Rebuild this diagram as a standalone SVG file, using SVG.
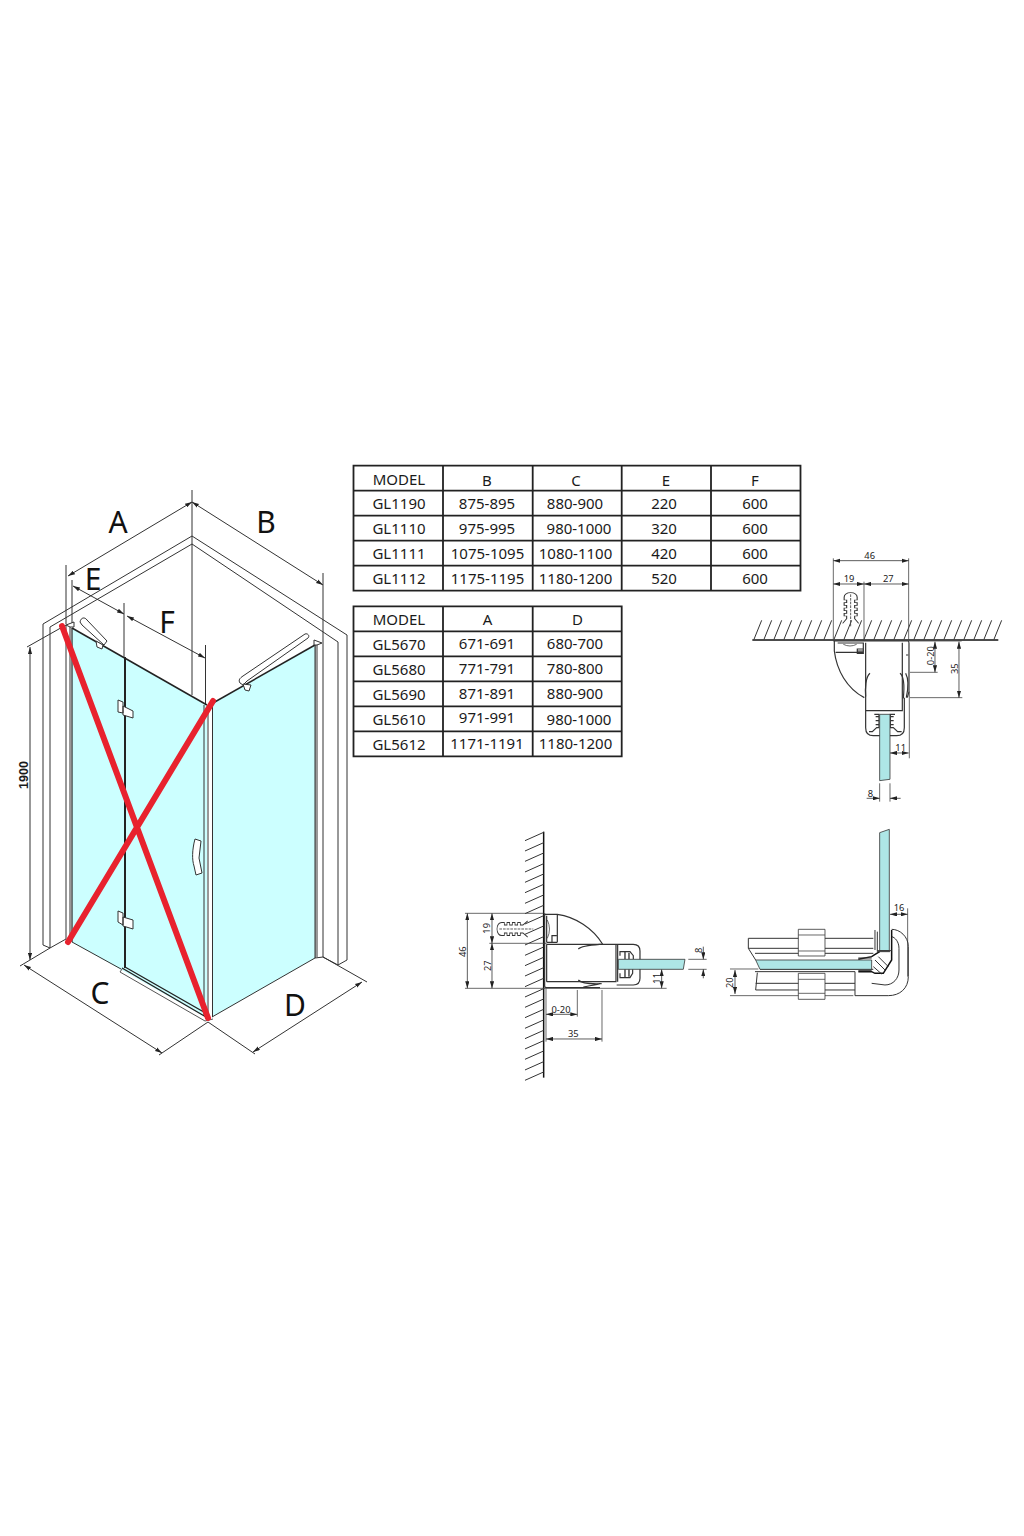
<svg xmlns="http://www.w3.org/2000/svg" width="1024" height="1536" viewBox="0 0 1024 1536">
<defs>
<marker id="a" viewBox="0 0 10 6" refX="10" refY="3" markerWidth="7" markerHeight="4.5" markerUnits="userSpaceOnUse" orient="auto-start-reverse"><path d="M0 0L10 3L0 6z" fill="#222"/></marker>
<marker id="b" viewBox="0 0 10 6" refX="10" refY="3" markerWidth="21" markerHeight="13" markerUnits="userSpaceOnUse" orient="auto-start-reverse"><path d="M0 0L10 3L0 6z" fill="#222"/></marker>
<path id="plug" d="M0 -14C-8 -14 -13 -8 -13 0V8H-8V16H-13V24H-8V32H-13V40H-8V48H-13V56H-8V64L-16 78M0 -14C8 -14 13 -8 13 0V8H8V16H13V24H8V32H13V40H8V48H13V56H8V64L16 78" fill="#fff" stroke="#333" stroke-width="2.2"/>
</defs>
<style>
text{font-family:"Noto Sans","Open Sans","Liberation Sans",sans-serif;fill:#1a1a1a}
.t{font-size:15px;text-anchor:middle}
.g{fill:none;stroke:#222;stroke-width:1.8}
.L{font-size:30px;text-anchor:middle;fill:#111}
.l{fill:none;stroke:#333;stroke-width:1}
.k{fill:none;stroke:#222;stroke-width:1.5}
.d{fill:none;stroke:#333;stroke-width:1;marker-start:url(#a);marker-end:url(#a)}
.x{fill:none;stroke:#333;stroke-width:3}
.X{fill:none;stroke:#111;stroke-width:4.5}
.p{fill:none;stroke:#333;stroke-width:3.6}
.e{fill:none;stroke:#444;stroke-width:2.4}
.s{font-size:28px;text-anchor:middle;fill:#222}
.D{fill:none;stroke:#333;stroke-width:2.4;marker-start:url(#b);marker-end:url(#b)}
.E{fill:none;stroke:#333;stroke-width:2.4;marker-end:url(#b)}
.glass{fill:#aee6e6;stroke:#333;stroke-width:2.4}
.pane{fill:#ccffff;stroke:none}
</style>
<rect width="1024" height="1536" fill="#fff"/>

<g id="table-1">
<path class="g" d="M353.5 465.7H800.5V590.7H353.5ZM353.5 490.7H800.5M353.5 515.7H800.5M353.5 540.7H800.5M353.5 565.7H800.5M443 465.7V590.7M532.7 465.7V590.7M621.7 465.7V590.7M711 465.7V590.7"/>
<text class="t" x="399" y="484.5">MODEL</text><text class="t" x="487" y="485.5">B</text><text class="t" x="576" y="485.5">C</text><text class="t" x="666" y="485.5">E</text><text class="t" x="755" y="485.5">F</text>
<text class="t" x="399" y="509">GL1190</text><text class="t" x="487" y="509">875-895</text><text class="t" x="575" y="509">880-900</text><text class="t" x="664" y="509">220</text><text class="t" x="755" y="509">600</text>
<text class="t" x="399" y="533.5">GL1110</text><text class="t" x="487" y="533.5">975-995</text><text class="t" x="579" y="533.5">980-1000</text><text class="t" x="664" y="533.5">320</text><text class="t" x="755" y="533.5">600</text>
<text class="t" x="399" y="558.5">GL1111</text><text class="t" x="487.5" y="558.5">1075-1095</text><text class="t" x="575.5" y="558.5">1080-1100</text><text class="t" x="664" y="558.5">420</text><text class="t" x="755" y="558.5">600</text>
<text class="t" x="399" y="583.5">GL1112</text><text class="t" x="487.5" y="583.5">1175-1195</text><text class="t" x="575.5" y="583.5">1180-1200</text><text class="t" x="664" y="583.5">520</text><text class="t" x="755" y="583.5">600</text>
</g>

<g id="table-2">
<path class="g" d="M353.5 606.3H621.7V756.3H353.5ZM353.5 631.3H621.7M353.5 656.3H621.7M353.5 681.3H621.7M353.5 706.3H621.7M353.5 731.3H621.7M443 606.3V756.3M532.7 606.3V756.3"/>
<text class="t" x="399" y="625">MODEL</text><text class="t" x="487.5" y="624.5">A</text><text class="t" x="577.5" y="624.5">D</text>
<text class="t" x="399" y="649.5">GL5670</text><text class="t" x="487" y="649">671-691</text><text class="t" x="575" y="649">680-700</text>
<text class="t" x="399" y="674.5">GL5680</text><text class="t" x="487" y="674">771-791</text><text class="t" x="575" y="674">780-800</text>
<text class="t" x="399" y="699.5">GL5690</text><text class="t" x="487" y="698.5">871-891</text><text class="t" x="575" y="698.5">880-900</text>
<text class="t" x="399" y="724.5">GL5610</text><text class="t" x="487" y="723">971-991</text><text class="t" x="579" y="724.5">980-1000</text>
<text class="t" x="399" y="749.5">GL5612</text><text class="t" x="487" y="748.5">1171-1191</text><text class="t" x="575.5" y="749">1180-1200</text>
</g>

<g id="detail-top" transform="translate(745 545) scale(.3333)">
<path class="X" d="M22 285H760"/>
<path class="x" d="M27 283L50 226M57 283L80 226M87 283L110 226M117 283L140 226M147 283L170 226M177 283L200 226M207 283L230 226M237 283L260 226M267 283L290 226M297 283L320 226M327 283L350 226M357 283L380 226M387 283L410 226M417 283L440 226M447 283L470 226M477 283L500 226M507 283L530 226M537 283L560 226M567 283L590 226M597 283L620 226M627 283L650 226M657 283L680 226M687 283L710 226M717 283L740 226M747 283L770 226"/>
<use href="#plug" transform="translate(317 157) scale(1.5 1)"/>
<path d="M317 148V245" fill="none" stroke="#333" stroke-width="2.4" stroke-dasharray="8 3"/>
<path class="e" d="M265 40V285M491 40V285M357 110V285M490 288H650M495 382H578M495 458H652M493 440V640M404 715V770M435 715V770"/>
<path class="D" d="M265 47H491"/><path class="D" d="M265 117H357"/><path class="D" d="M357 117H491"/>
<path class="D" d="M570 290V382"/><path class="D" d="M642 290V458"/><path class="D" d="M435 624H491"/>
<path class="E" d="M365 760H404"/><path class="E" d="M467 760H435"/>
<path class="p" d="M265 288H488Q492 288 492 294V440L487 458M268 288V318C275 375 305 430 358 458M272 322H355M278 294H355V318H335M337 312H355V325H337Z"/>
<path class="p" d="M362 293V497H472V360M362 497V548Q362 572 385 572H455Q478 572 478 548V458M472 293V360"/>
<path class="p" d="M375 385C362 395 360 430 362 455M465 385C478 395 478 430 475 460M482 385C490 400 490 430 484 458M483 330H490"/>
<path d="M388 508H402V548H395L382 560H372M450 508H436V548H445L458 560H470" fill="none" stroke="#333" stroke-width="3.5"/>
<path d="M392 515H402M392 527H402M392 539H402M436 515H446M436 527H446M436 539H446" stroke="#333" stroke-width="4"/>
<path class="e" d="M295 298Q315 308 335 298"/>
<path class="glass" d="M404 508H435V703L404 707Z"/>
<text class="s" x="374" y="42">46</text><text class="s" x="312" y="112">19</text><text class="s" x="430" y="110">27</text>
<text class="s" x="467" y="617">11</text><text class="s" x="376" y="756">8</text>
<text class="s" transform="translate(566 332) rotate(-90)">0-20</text><text class="s" transform="translate(639 371) rotate(-90)">35</text>
</g>

<g id="detail-left" transform="translate(450 825) scale(.3333)">
<path class="X" d="M281 20V758"/>
<path class="x" d="M281 22L225 47M281 53L225 78M281 84L225 109M281 116L225 141M281 147L225 172M281 178L225 203M281 210L225 235M281 241L225 266M281 272L225 297M281 303L225 328M281 335L225 360M281 366L225 391M281 397L225 422M281 428L225 453M281 460L225 485M281 491L225 516M281 522L225 547M281 553L225 578M281 585L225 610M281 616L225 641M281 647L225 672M281 678L225 703M281 710L225 735M281 741L225 766"/>
<use href="#plug" transform="translate(155 312) rotate(-90) scale(1.5 1)"/>
<path d="M148 312H250" fill="none" stroke="#333" stroke-width="2.4" stroke-dasharray="8 3"/>
<path class="e" d="M45 265H281M45 490H285M118 355H290M285 490H650M382 495V575M456 495V650M288 490V650M715 403H770M715 433H770"/>
<path class="D" d="M52 265V490"/><path class="D" d="M126 265V355"/><path class="D" d="M126 355V490"/>
<path class="D" d="M288 568H382"/><path class="D" d="M288 642H456"/><path class="D" d="M635 433V490"/>
<path class="E" d="M760 365V403"/><path class="E" d="M760 460V433"/>
<path class="p" d="M284 265V484Q284 488 290 488H450M284 268H322C375 275 430 310 458 358M322 268V352M290 272V352M290 352H322M306 352V332H320"/>
<path class="p" d="M290 358H550Q570 358 570 378V460Q570 480 550 480H500M290 358V470M290 470H498V358M503 358V470"/>
<path class="p" d="M385 372C395 362 430 360 455 358M385 465C395 476 430 477 455 476M400 486C420 482 435 480 450 476"/>
<path d="M510 392V380H540L550 392V403M510 445V458H540L548 445V433" fill="none" stroke="#333" stroke-width="3.5"/>
<path d="M525 380V403M537 383V403M525 433V458M537 433V455" stroke="#333" stroke-width="4"/>
<path d="M292 285Q305 312 292 340" fill="none" stroke="#444" stroke-width="2.4"/>
<path class="glass" d="M505 403H705L700 433H505Z"/>
<text class="s" transform="translate(47 380) rotate(-90)">46</text><text class="s" transform="translate(119 310) rotate(-90)">19</text><text class="s" transform="translate(122 422) rotate(-90)">27</text>
<text class="s" transform="translate(630 460) rotate(-90)">11</text><text class="s" transform="translate(755 376) rotate(-90)">8</text>
<text class="s" x="333" y="563">0-20</text><text class="s" x="370" y="636">35</text>
</g>

<g id="detail-corner" transform="translate(715 820) scale(.3333)">
<path class="x" d="M100 355H475M100 355V385H475M100 385L122 420M120 400H475M135 448H475M120 455H420M127 458L122 510H420M122 490H420M420 455V527"/>
<path class="e" d="M45 447H130M45 527H415M578 265V470"/>
<path d="M250 328H330V408H250ZM250 460H330V538H250Z" fill="#fff" stroke="#333" stroke-width="2.4"/>
<path d="M250 345H330M250 393H330M250 478H330M250 520H330" class="e"/>
<path class="x" d="M420 527H520C555 527 580 505 580 470V380C580 350 555 328 530 328M470 490L510 495C535 495 552 475 552 450V385C552 365 540 352 530 350"/>
<path class="D" d="M60 450V522"/><path class="D" d="M525 283H578"/>
<path class="X" d="M430 418L470 410L478 405L494 395M430 455H470L480 460H505L530 420V330"/>
<path class="x" d="M480 330V390M487 335V395H525M490 410L520 440M480 420L510 450M475 440L500 462"/>
<path class="glass" d="M494 38L523 28V392H494Z"/>
<path class="glass" d="M122 420H470V448H135Z"/>
<path class="x" d="M430 414H470M430 452H470M487 392H530"/>
<text class="s" x="552" y="274">16</text>
<text class="s" transform="translate(53 488) rotate(-90)">20</text>
</g>

<g id="connectors">
<path class="d" d="M68 576L192 502"/>
<path class="d" d="M192 502L323 585"/>
<path class="d" d="M73 586L124 614"/>
<path class="d" d="M127 616L205 658"/>
<path class="d" d="M30 647V960"/>
<path class="d" d="M24 965L162 1053"/>
<path class="d" d="M253 1052L362 982"/>
<path class="l" d="M192 490V536M66 565V624M323 573V640M72 580V625M124 603V657M205.5 645V705M27 647L66 625M20 966L50 948M159 1055L208 1022L255 1054M323 957L367 982"/>
</g>

<g id="labels">
<text class="L" x="118" y="533">A</text><text class="L" x="266" y="533">B</text>
<text class="L" x="93" y="590">E</text><text class="L" x="167" y="633">F</text>
<text class="L" x="100" y="1004">C</text><text class="L" x="295" y="1016">D</text>
<text x="0" y="0" transform="translate(28 775) rotate(-90)" font-size="12.5" font-weight="700" text-anchor="middle" style="font-family:'Liberation Sans',sans-serif">1900</text>
</g>

<g id="cabin">
<path class="l" d="M43 624L192 536L347 635M50 627L192 544L338 642M43 624V945L50 948M50 627V948L66 939V625M192 536V695M338 642V965L347 960V635M315 645V958L323 957V640M323 957L338 965"/>
<polygon class="pane" points="213,703 315,645 315,958 212,1017"/>
<polygon class="pane" points="72,628 207,705 207,1018 72,942"/>
<path d="M70 627V940" fill="none" stroke="#777" stroke-width="1.5"/>
<path d="M72 628V942" fill="none" stroke="#222" stroke-width="1.2"/>
<path d="M317 642V957" fill="none" stroke="#777" stroke-width="1.5"/>
<path class="k" d="M72 628L207 705" stroke-width="2"/>
<path class="k" d="M213 703L315 645"/>
<path class="l" d="M315 645V958M72 942L121 969M212 1017L315 958M204 705V1016M208 705V1018M212.5 703V1017"/>
<path d="M125 657V968" fill="none" stroke="#222" stroke-width="2"/>
<path d="M122 968L206 1017M125 967L209 1015" fill="none" stroke="#222" stroke-width="1.4"/>
<path d="M120 972L122 969M120 972L205 1021L213 1019" fill="none" stroke="#555" stroke-width="1"/>
<g id="hinge-top"><path d="M118 700L123 702V713L118 712Z M123 706L133 711V718L123 715Z" fill="#fff" stroke="#333" stroke-width="1"/></g>
<g id="hinge-bottom"><path d="M118 911L123 913V925L118 922Z M123 917L133 920V929L123 926Z" fill="#fff" stroke="#333" stroke-width="1"/></g>
<g id="handle"><path d="M195 839L201 841L199 858L202 873L196 875L194 866C192 860 192 850 195 839Z" fill="#fff" stroke="#333" stroke-width="1"/></g>
<g id="rail-left"><path d="M80 622C81 617 85 617 87 620L107 641L104 645L82 625Z" fill="#fff" stroke="#333" stroke-width="1"/><path d="M96 641L103 645L102 649L97 647Z" fill="#fff" stroke="#333" stroke-width="1"/></g>
<g id="rail-right"><path d="M240 683C238 680 240 678 243 676L305 634C308 633 310 636 308 638L247 681L243 685Z" fill="#fff" stroke="#333" stroke-width="1"/><path d="M243 684L251 685L249 691L245 690Z" fill="#fff" stroke="#333" stroke-width="1"/></g>
<path d="M66 625L74 622V627L70 627Z M314 640L322 643L317 645L314 645Z" fill="#fff" stroke="#333" stroke-width="1"/>
<g id="cross"><path d="M62 626L208 1018M68 942L213 701" fill="none" stroke="#e8222e" stroke-width="6" stroke-linecap="round"/></g>
</g>
</svg>
